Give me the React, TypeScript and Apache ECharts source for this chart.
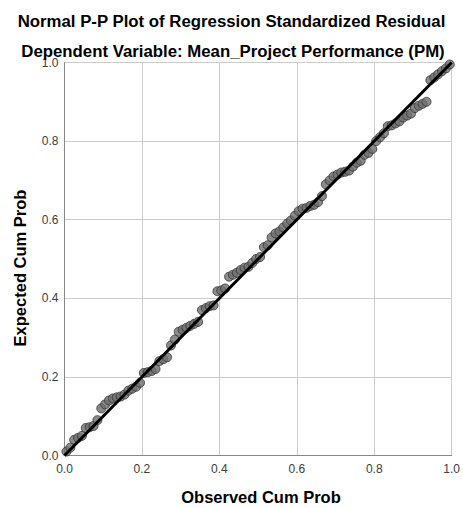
import React, { useEffect, useRef } from "react";
import * as echarts from "echarts";

const observed = [
  0.005, 0.015, 0.025, 0.035, 0.045, 0.055, 0.065, 0.075, 0.085, 0.095,
  0.105, 0.115, 0.125, 0.135, 0.145, 0.155, 0.165, 0.175, 0.185, 0.195,
  0.205, 0.215, 0.225, 0.235, 0.245, 0.255, 0.265, 0.275, 0.285, 0.295,
  0.305, 0.315, 0.325, 0.335, 0.345, 0.355, 0.365, 0.375, 0.385, 0.395,
  0.405, 0.415, 0.425, 0.435, 0.445, 0.455, 0.465, 0.475, 0.485, 0.495,
  0.505, 0.515, 0.525, 0.535, 0.545, 0.555, 0.565, 0.575, 0.585, 0.595,
  0.605, 0.615, 0.625, 0.635, 0.645, 0.655, 0.665, 0.675, 0.685, 0.695,
  0.705, 0.715, 0.725, 0.735, 0.745, 0.755, 0.765, 0.775, 0.785, 0.795,
  0.805, 0.815, 0.825, 0.835, 0.845, 0.855, 0.865, 0.875, 0.885, 0.895,
  0.905, 0.915, 0.925, 0.935, 0.945, 0.955, 0.965, 0.975, 0.985, 0.995,
];

const expected = [
  0.01, 0.02, 0.04, 0.045, 0.05, 0.07, 0.072, 0.075, 0.09, 0.12,
  0.13, 0.14, 0.145, 0.148, 0.15, 0.155, 0.165, 0.17, 0.175, 0.185,
  0.21, 0.212, 0.215, 0.22, 0.24, 0.245, 0.25, 0.28, 0.295, 0.315,
  0.32, 0.325, 0.33, 0.335, 0.34, 0.37, 0.375, 0.38, 0.382, 0.418,
  0.42, 0.425, 0.455, 0.46, 0.465, 0.472, 0.478, 0.48, 0.49, 0.5,
  0.505, 0.53, 0.535, 0.555, 0.565, 0.57, 0.58, 0.59, 0.598, 0.61,
  0.622, 0.628, 0.63, 0.635, 0.638, 0.645, 0.66, 0.69, 0.7, 0.71,
  0.715, 0.72, 0.722, 0.725, 0.735, 0.745, 0.75, 0.765, 0.77, 0.78,
  0.8, 0.81, 0.82, 0.838, 0.84, 0.845, 0.85, 0.86, 0.865, 0.87,
  0.884, 0.89, 0.895, 0.9, 0.955, 0.962, 0.97, 0.978, 0.985, 0.995,
];

const diagonal = [
  [0, 0],
  [1, 1],
];

const titleText = "Normal P-P Plot of Regression Standardized Residual";
const subtitleText = "Dependent Variable: Mean_Project Performance (PM)";
const xAxisTitle = "Observed Cum Prob";
const yAxisTitle = "Expected Cum Prob";

const FONT = "'Liberation Sans', Arial, sans-serif";

export default function App() {
  const ref = useRef<HTMLDivElement>(null);

  useEffect(() => {
    if (!ref.current) return;
    const chart = echarts.init(ref.current, null, { renderer: "svg" });
    const points = observed.map((x, i) => [x, expected[i]]);
    const axisCommon = {
      type: "value" as const,
      min: 0,
      max: 1,
      interval: 0.2,
      axisLine: { show: true, lineStyle: { color: "#888888", width: 1 } },
      axisTick: { show: false },
      splitLine: { show: true, lineStyle: { color: "#cccccc", width: 1 } },
      axisLabel: {
        color: "#3c3c3c",
        fontSize: 12,
        fontFamily: FONT,
        formatter: (v: number) => v.toFixed(1),
      },
    };
    const textStyle = (text: string, size: number) => ({
      text,
      fontSize: size,
      fontWeight: "bold",
      fontFamily: FONT,
      fill: "#000000",
      textAlign: "center",
      textVerticalAlign: "middle",
    });
    chart.setOption({
      animation: false,
      backgroundColor: "#ffffff",
      grid: { left: 64.5, top: 62.5, width: 393.5, height: 393, containLabel: false },
      xAxis: { ...axisCommon, axisLabel: { ...axisCommon.axisLabel, margin: 7 } },
      yAxis: { ...axisCommon, axisLabel: { ...axisCommon.axisLabel, margin: 6 } },
      graphic: [
        { type: "text", x: 231.5, y: 21, z: 100, style: textStyle(titleText, 16.8) },
        { type: "text", x: 233, y: 51, z: 100, style: textStyle(subtitleText, 16.8) },
        { type: "text", x: 261, y: 497, z: 100, style: textStyle(xAxisTitle, 16.5) },
        {
          type: "text",
          x: 20,
          y: 268,
          z: 100,
          rotation: Math.PI / 2,
          style: textStyle(yAxisTitle, 16.5),
        },
      ],
      series: [
        {
          type: "scatter",
          data: points,
          symbol: "circle",
          symbolSize: 9,
          itemStyle: { color: "#6e6e6e", borderColor: "#333333", borderWidth: 1 },
          z: 2,
        },
        {
          type: "line",
          data: diagonal,
          symbol: "none",
          lineStyle: { color: "#000000", width: 3 },
          z: 3,
        },
      ],
    });
    return () => chart.dispose();
  }, []);

  return (
    <div
      ref={ref}
      style={{ position: "fixed", left: 0, top: 0, width: 463, height: 508 }}
    />
  );
}
